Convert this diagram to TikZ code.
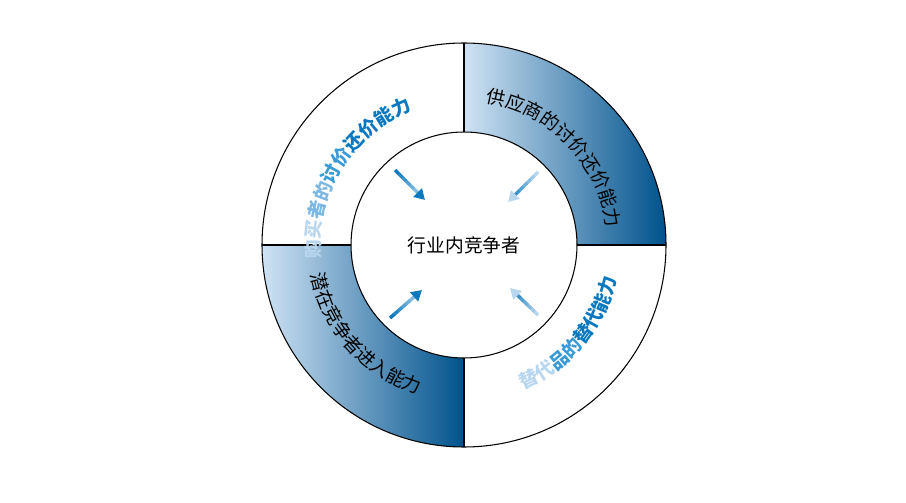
\documentclass[tikz,border=0pt]{standalone}
\usepackage{fontspec}
\newfontfamily\cjk{Noto Sans CJK SC}
\usetikzlibrary{arrows.meta,decorations.text,calc}
\definecolor{pale}{HTML}{CFE3F4}
\definecolor{mid}{HTML}{1A9AD8}
\definecolor{deep}{HTML}{00528C}
\definecolor{tA}{HTML}{B8D6EE}
\definecolor{tB}{HTML}{7CB8E2}
\definecolor{tC}{HTML}{3A9AD6}
\definecolor{tD}{HTML}{0A78BE}
\newcommand\arcfont{\cjk\bfseries\fontsize{16}{16}\selectfont}
\newcommand\arcplain{\cjk\fontsize{16}{16}\selectfont}
\tikzset{ring line/.style={draw=black,line width=0.9pt},
         arc text/.style={decorate,decoration={text along path,text align=center,text={#1}}},
         centre text/.style={font=\cjk\fontsize{16}{16}\selectfont}
}
\begin{document}
\begin{tikzpicture}[x=0.03cm,y=0.03cm]
    \useasboundingbox (0,0) rectangle (906,502);
    \coordinate (c) at (464,257);
    % shaded quarters
    \shade[left color=pale,middle color=mid,right color=deep]
        (464,370) -- (464,459) arc (90:0:202) -- (577,257) arc (0:90:113) -- cycle;
    \shade[left color=pale,middle color=mid,right color=deep]
        (262,257) -- (351,257) arc (180:270:113) -- (464,55) arc (270:180:202) -- cycle;
    % rings and dividers
    \draw[ring line] (c) circle (202);
    \draw[ring line] (c) circle (113);
    \draw[ring line] (464,370) -- (464,459);
    \draw[ring line] (464,144) -- (464,55);
    \draw[ring line] (262,257) -- (351,257);
    \draw[ring line] (577,257) -- (666,257);
    \node[centre text] (core) at (c) {行业内竞争者};
    % curved labels
    \path[arc text={|\arcfont\color{tA}|购买|\arcfont\color{tB}|者的|\arcfont\color{tC}|讨价|\arcfont\color{tD}|还价能力}]
        (c) ++(196:144) arc (196:100:144);
    \path[arc text={|\arcplain\color{black}|供应商的讨价还价能力}]
        (c) ++(82:144) arc (82:6:144);
    \path[arc text={|\arcplain\color{black}|潜在竞争者进入能力}]
        (c) ++(186:156) arc (186:258:156);
    \path[arc text={|\arcfont\color{tA}|替代|\arcfont\color{tC}|品的|\arcfont\color{tD}|替代能力}]
        (c) ++(290:156) arc (290:350:156);
    % arrows towards the core
    \foreach \sx/\sy/\ex/\ey/\ca/\cb in {395/332/425/302/tA/tD, 538/330/508/300/tD/tA,
                                      390/184/422/212/tA/tD, 538/187/510/214/tD/tA}{
        \foreach \i in {0,...,6}{
            \pgfmathsetmacro\pa{\i/8}
            \pgfmathsetmacro\pb{(\i+1)/8+0.01}
            \pgfmathsetmacro\mix{100-\i*100/7}
            \draw[\cb!\mix!\ca,line width=3] ($(\sx,\sy)!\pa!(\ex,\ey)$) -- ($(\sx,\sy)!\pb!(\ex,\ey)$);
        }
        \draw[\cb,line width=3,-{Triangle[length=9pt,width=10pt]}] ($(\sx,\sy)!0.875!(\ex,\ey)$) -- (\ex,\ey);
    }
\end{tikzpicture}
\end{document}
